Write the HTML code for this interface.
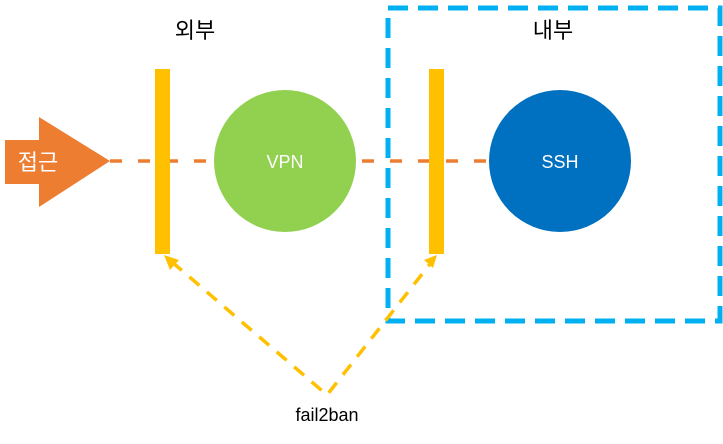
<!DOCTYPE html>
<html><head><meta charset="utf-8"><style>
html,body{margin:0;padding:0;background:#fff;}
svg{display:block;}
text{font-family:"Liberation Sans","Noto Sans CJK KR",sans-serif;}
</style></head><body>
<svg width="723" height="444" viewBox="0 0 723 444">
<rect x="388" y="8" width="332" height="313" fill="none" stroke="#00B0F0" stroke-width="5" stroke-dasharray="20 10"/>
<line x1="110" y1="161" x2="490" y2="161" stroke="#ED7D31" stroke-width="3.5" stroke-dasharray="12 16"/>
<polygon points="5,140 39,140 39,117 110,161 39,207 39,184 5,184" fill="#ED7D31"/>
<text x="38" y="170" font-size="22" fill="#fff" text-anchor="middle">접근</text>
<rect x="155" y="69" width="15" height="185" fill="#FFC000"/>
<rect x="429" y="69" width="15" height="185" fill="#FFC000"/>
<circle cx="285" cy="161" r="71" fill="#92D050"/>
<text x="285" y="168" font-size="18" fill="#fff" text-anchor="middle">VPN</text>
<circle cx="560" cy="161" r="71" fill="#0070C0"/>
<text x="560" y="168" font-size="18" fill="#fff" text-anchor="middle">SSH</text>
<polyline points="172,262 327,395 430,264" fill="none" stroke="#FFC000" stroke-width="3.5" stroke-dasharray="13 10"/>
<polygon points="164,255 179,260 170,270" fill="#FFC000"/>
<polygon points="437,255 424,260 433,268" fill="#FFC000"/>
<text x="195" y="38" font-size="22" fill="#000" text-anchor="middle">외부</text>
<text x="553" y="38" font-size="22" fill="#000" text-anchor="middle">내부</text>
<text x="327" y="421" font-size="18" fill="#000" text-anchor="middle">fail2ban</text>
</svg>
</body></html>
